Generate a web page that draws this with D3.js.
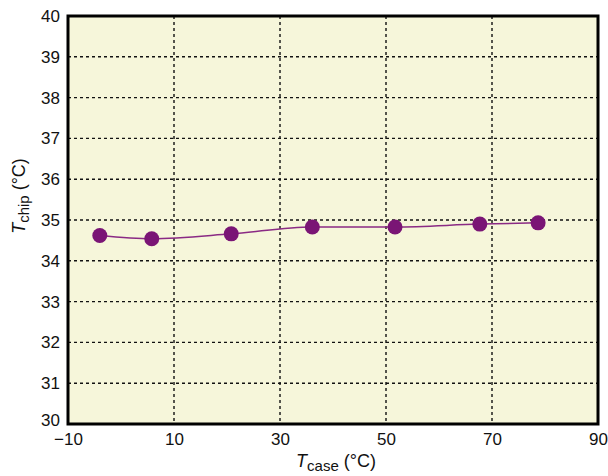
<!DOCTYPE html>
<html>
<head>
<meta charset="utf-8">
<script src="https://cdn.jsdelivr.net/npm/d3@7"></script>
<style>
  body { margin: 0; background: #fff; }
  text { font-family: "Liberation Sans", Arial, sans-serif; fill: #111; }
</style>
</head>
<body>
<svg></svg>
<script>
let svgWidth = 608
let svgHeight = 476

// data
const tCase = [-4.0, 5.8, 20.8, 36.1, 51.7, 67.7, 78.7]
const tChip = [34.62, 34.54, 34.66, 34.83, 34.83, 34.9, 34.93]
const xTicks = [-10, 10, 30, 50, 70, 90]
const yTicks = [30, 31, 32, 33, 34, 35, 36, 37, 38, 39, 40]

let margin = {left: 68, top: 16, right: 10, bottom: 52}
let width = 598 - margin.left
let height = 424 - margin.top

let svg = d3.select('svg')
    .attr('width', svgWidth)
    .attr('height', svgHeight)

let g = svg.append('g')
    .attr('transform', `translate(${margin.left},${margin.top})`)

const x = d3.scaleLinear().domain([-10, 90]).range([0, width])
const y = d3.scaleLinear().domain([30, 40]).range([height, 0])

g.append('rect')
    .attr('width', width)
    .attr('height', height)
    .attr('fill', '#f6f6da')

// grid lines
g.selectAll('.vgrid').data(xTicks.slice(1, -1))
    .enter().append('line')
    .attr('x1', d => x(d)).attr('x2', d => x(d))
    .attr('y1', 0).attr('y2', height)
    .attr('stroke', '#111').attr('stroke-width', 1.4)
    .attr('stroke-dasharray', '3,3')

g.selectAll('.hgrid').data(yTicks.slice(1, -1))
    .enter().append('line')
    .attr('x1', 0).attr('x2', width)
    .attr('y1', d => y(d)).attr('y2', d => y(d))
    .attr('stroke', '#111').attr('stroke-width', 1.4)
    .attr('stroke-dasharray', '3,3')

// axes (labels only, frame drawn below)
const fmt = d => d < 0 ? '\u2212' + Math.abs(d) : d
let xAxis = g.append('g')
    .attr('transform', `translate(0,${height})`)
    .call(d3.axisBottom(x).tickValues(xTicks).tickSize(0).tickPadding(9).tickFormat(fmt))
let yAxis = g.append('g')
    .call(d3.axisLeft(y).tickValues(yTicks).tickSize(0).tickPadding(8))
xAxis.select('.domain').remove()
yAxis.select('.domain').remove()
xAxis.selectAll('text').style('font-size', '17px').attr('fill', '#111')
yAxis.selectAll('text').style('font-size', '17px').attr('fill', '#111')
yAxis.selectAll('.tick').filter(d => d == 30).select('text').attr('dy', '0.1em')

// line and points
const data = tCase.map((d, i) => ({x: d, y: tChip[i]}))
g.append('path')
    .datum(data)
    .attr('fill', 'none')
    .attr('stroke', '#8a2a84')
    .attr('stroke-width', 1.5)
    .attr('d', d3.line().x(d => x(d.x)).y(d => y(d.y)).curve(d3.curveMonotoneX))

g.selectAll('.pt').data(data)
    .enter().append('circle')
    .attr('cx', d => x(d.x))
    .attr('cy', d => y(d.y))
    .attr('r', 7.5)
    .attr('fill', '#7a1575')

// frame
g.append('rect')
    .attr('width', width)
    .attr('height', height)
    .attr('fill', 'none')
    .attr('stroke', '#000')
    .attr('stroke-width', 3)

// axis titles
let xt = svg.append('text')
    .attr('x', 336)
    .attr('y', 467)
    .attr('text-anchor', 'middle')
    .style('font-size', '18px')
xt.append('tspan').text('T').style('font-style', 'italic')
xt.append('tspan').text('case').attr('dy', 4).style('font-size', '15px')
xt.append('tspan').text(' (°C)').attr('dy', -4)

let yt = svg.append('text')
    .attr('transform', 'translate(25,196) rotate(-90)')
    .attr('text-anchor', 'middle')
    .style('font-size', '18px')
yt.append('tspan').text('T').style('font-style', 'italic')
yt.append('tspan').text('chip').attr('dy', 4).style('font-size', '15px')
yt.append('tspan').text(' (°C)').attr('dy', -4)
</script>
</body>
</html>
